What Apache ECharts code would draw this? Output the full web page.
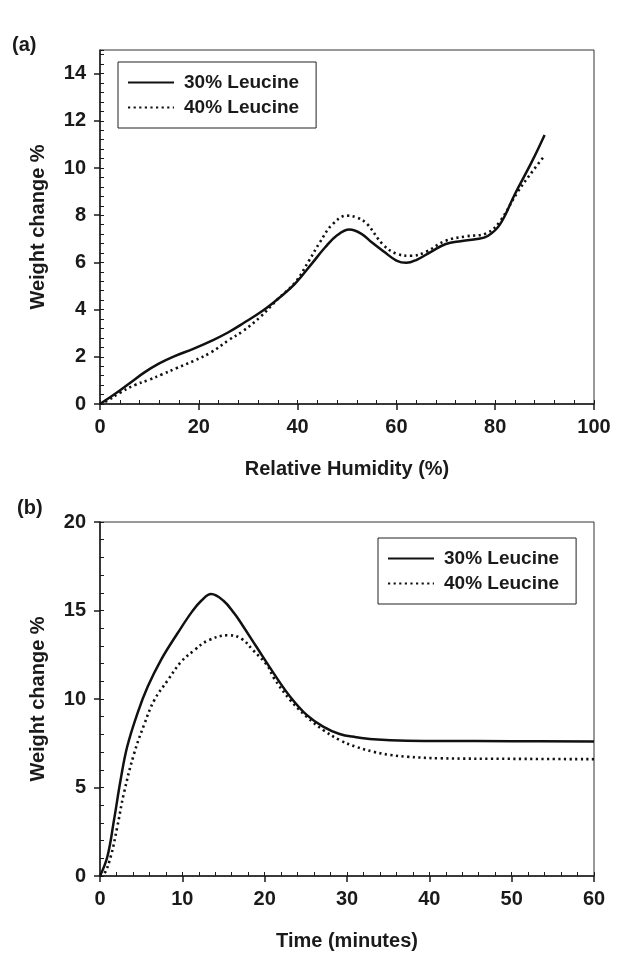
<!DOCTYPE html>
<html>
<head>
<meta charset="utf-8">
<script src="https://cdn.jsdelivr.net/npm/echarts@6/dist/echarts.min.js"></script>
<style>
html,body{margin:0;padding:0;background:#fff;}
#chart{width:644px;height:969px;}
</style>
</head>
<body>
<div id="chart"></div>
<script>
// ---- Data ----
const seriesNames = ['30% Leucine', '40% Leucine'];

// (a) Weight change % vs Relative Humidity (%)
const rh30 = [[0,0],[3,0.42],[6,0.88],[9,1.34],[12,1.72],[15,2.02],[19,2.35],[23,2.72],[26,3.04],[29,3.42],[33,3.96],[36,4.45],[39.5,5.1],[43,5.98],[45.5,6.62],[48,7.15],[50.5,7.39],[53,7.2],[55,6.85],[57.5,6.45],[60,6.08],[62,5.98],[64,6.1],[67,6.45],[70,6.78],[73,6.9],[76,6.98],[78.5,7.12],[81,7.62],[84,8.9],[87.5,10.3],[90,11.4]];
const rh40 = [[0,0],[1.5,0.14],[4,0.47],[7,0.8],[10,1.03],[12.5,1.25],[15.5,1.52],[19,1.83],[22.5,2.19],[26,2.7],[29,3.1],[32.5,3.7],[36,4.45],[39.5,5.15],[42.3,6.07],[44.5,6.85],[47,7.6],[50,7.98],[52,7.9],[54,7.64],[57.3,6.75],[60,6.37],[63,6.28],[66,6.45],[70,6.92],[74,7.1],[78.3,7.24],[81,7.75],[84.5,8.97],[87.7,9.9],[90,10.52]];

// (b) Weight change % vs Time (minutes)
const t30 = [[0,0],[0.9,1.1],[1.7,3.16],[2.5,5.42],[3.3,7.3],[4.55,9.19],[5.8,10.7],[7.4,12.2],[9.4,13.7],[11.2,14.95],[12.3,15.55],[13.5,15.93],[15.0,15.55],[16.3,14.84],[17.3,14.17],[19,12.95],[21.1,11.45],[23.1,10.13],[25.1,9.1],[27.1,8.44],[29.1,8.02],[31.1,7.84],[33.2,7.72],[37.3,7.64],[41.3,7.63],[50,7.62],[60,7.6]];
const t40 = [[0,0],[0.5,0.1],[1.3,1.09],[2.1,2.78],[2.9,4.67],[4.15,6.93],[5.4,8.6],[6.6,9.94],[8.25,11.07],[9.85,12.1],[11.5,12.77],[13.1,13.3],[15.6,13.6],[17.2,13.4],[18.6,12.75],[20.3,11.9],[21.1,11.2],[23.1,9.94],[25.1,9.0],[27.1,8.25],[29.1,7.68],[31.1,7.3],[33.2,7.02],[35.2,6.84],[37.3,6.74],[41.3,6.65],[50,6.62],[60,6.6]];

// ---- Chart ----
const FONT = "'Liberation Sans', Arial, sans-serif";
const INK = '#1a1a1a';
const chart = echarts.init(document.getElementById('chart'), null, {renderer: 'canvas'});

function mainX(grid, max, interval, name) {
  return {
    type: 'value', gridIndex: grid, position: 'bottom', min: 0, max: max, interval: interval,
    name: name, nameLocation: 'middle', nameGap: 55,
    nameTextStyle: {fontFamily: FONT, fontWeight: 'bold', fontSize: 20, color: INK},
    axisLine: {show: true, onZero: false, lineStyle: {color: INK, width: 1.5}},
    axisTick: {show: true, inside: false, length: 6, lineStyle: {color: INK, width: 1.5}},
    axisLabel: {margin: 13, fontFamily: FONT, fontWeight: 'bold', fontSize: 20, color: INK},
    splitLine: {show: false}
  };
}
function minorX(grid, max, interval) {
  return {
    type: 'value', gridIndex: grid, position: 'bottom', min: 0, max: max, interval: interval,
    axisLine: {show: false}, axisLabel: {show: false}, splitLine: {show: false},
    axisTick: {show: true, inside: true, length: 4, lineStyle: {color: INK, width: 1}}
  };
}
function mainY(grid, max, interval) {
  return {
    type: 'value', gridIndex: grid, position: 'left', min: 0, max: max, interval: interval,
    name: 'Weight change %', nameLocation: 'middle', nameGap: 52,
    nameTextStyle: {fontFamily: FONT, fontWeight: 'bold', fontSize: 20, color: INK},
    axisLine: {show: true, onZero: false, lineStyle: {color: INK, width: 1.5}},
    axisTick: {show: true, inside: false, length: 6, lineStyle: {color: INK, width: 1.5}},
    axisLabel: {margin: 14, showMaxLabel: max % interval === 0, fontFamily: FONT, fontWeight: 'bold', fontSize: 20, color: INK},
    splitLine: {show: false}
  };
}
function minorY(grid, max, interval) {
  return {
    type: 'value', gridIndex: grid, position: 'left', min: 0, max: max, interval: interval,
    axisLine: {show: false}, axisLabel: {show: false}, splitLine: {show: false},
    axisTick: {show: true, inside: true, length: 4, lineStyle: {color: INK, width: 1}}
  };
}
function legend(left, top) {
  return {
    data: seriesNames, orient: 'vertical', left: left, top: top,
    padding: [11, 17, 11, 9], itemGap: 6, itemWidth: 46, itemHeight: 14,
    borderColor: '#222', borderWidth: 1, backgroundColor: '#fff',
    selectedMode: false,
    itemStyle: {color: 'rgba(0,0,0,0)', borderColor: 'rgba(0,0,0,0)', borderWidth: 0, opacity: 0},
    textStyle: {fontFamily: FONT, fontWeight: 'bold', fontSize: 19, lineHeight: 19, color: INK, padding: [0, 0, 0, 5]}
  };
}
const solid = {color: '#111', width: 2.5, type: 'solid'};
const dotted = {color: '#111', width: 2.6, type: [2.2, 3.4], cap: 'butt'};
function line(name, data, gi, style) {
  return {
    name: name, type: 'line', xAxisIndex: gi, yAxisIndex: gi, data: data,
    smooth: 0.4, symbol: 'none', lineStyle: style, itemStyle: {color: '#111'},
    animation: false, z: 3
  };
}

chart.setOption({
  animation: false,
  backgroundColor: '#fff',
  grid: [
    {left: 100, top: 50, width: 494, height: 354, show: true, borderColor: '#333', borderWidth: 1, backgroundColor: 'transparent'},
    {left: 100, top: 522, width: 494, height: 354, show: true, borderColor: '#333', borderWidth: 1, backgroundColor: 'transparent'}
  ],
  xAxis: [
    mainX(0, 100, 20, 'Relative Humidity (%)'),
    minorX(0, 100, 4),
    mainX(1, 60, 10, 'Time (minutes)'),
    minorX(1, 60, 2)
  ],
  yAxis: [
    mainY(0, 15, 2),
    minorY(0, 15, 0.4),
    mainY(1, 20, 5),
    minorY(1, 20, 1)
  ],
  legend: [legend(118, 62), legend(378, 538)],
  graphic: [
    {type: 'text', left: 12, top: 35, style: {text: '(a)', fontFamily: FONT, fontWeight: 'bold', fontSize: 20, fill: INK}},
    {type: 'text', left: 17, top: 498, style: {text: '(b)', fontFamily: FONT, fontWeight: 'bold', fontSize: 20, fill: INK}}
  ],
  series: [
    line(seriesNames[0], rh30, 0, solid),
    line(seriesNames[1], rh40, 0, dotted),
    line(seriesNames[0], t30, 2, solid),
    line(seriesNames[1], t40, 2, dotted)
  ]
});
</script>
</body>
</html>
